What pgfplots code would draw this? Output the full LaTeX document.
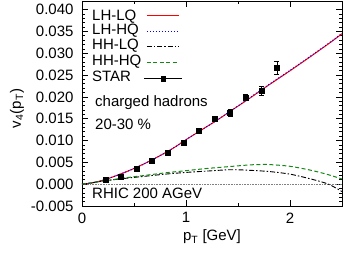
\documentclass[border=0pt]{standalone}
\usepackage{pgfplots}
\pgfplotsset{compat=1.18}
\usepackage{fontspec}
\setmainfont{Liberation Sans}
\definecolor{dgreen}{RGB}{20,135,20}
\newcommand{\bigf}{\fontsize{15}{18}\selectfont}
\begin{document}
\begin{tikzpicture}
\begin{axis}[
  name=main,
  scale only axis,
  width=260pt, height=205pt,
  xmin=0, xmax=2.5, ymin=-0.005, ymax=0.042,
  font=\bigf,
  tick label style={font=\bigf},
  label style={font=\bigf},
  /pgf/number format/assume math mode=true,
  xtick={0,1,2}, minor xtick={0.5,1.5},
  ytick={-0.005,0,0.005,0.010,0.015,0.020,0.025,0.030,0.035,0.040},
  minor y tick num=4,
  yticklabel style={/pgf/number format/fixed, /pgf/number format/fixed zerofill, /pgf/number format/precision=3, xshift=-5pt},
  xticklabel style={yshift=-3pt},
  scaled y ticks=false,
  tick align=inside,
  major tick length=6pt, minor tick length=3pt,
  tick style={black, line width=0.8pt},
  axis line style={line width=0.9pt},
  xlabel={p\textsubscript{T} [GeV]},
  ylabel={v\textsubscript{4}(p\textsubscript{T})},
  ylabel style={xshift=-5pt},
  redline/.style={red, line width=1pt},
  blueline/.style={blue, dotted, line width=1pt},
  blackline/.style={black, dash pattern=on 5pt off 2pt on 1.5pt off 2pt, line width=0.9pt},
  greenline/.style={dgreen, dash pattern=on 4pt off 2.5pt, line width=1pt},
]
\addplot[gray, densely dotted, line width=0.6pt, forget plot] coordinates {(0,0) (2.5,0)};
% LH-LQ
\addplot[redline, smooth] coordinates {
(0,0) (0.1,0.0003) (0.2,0.0009) (0.3,0.0017) (0.4,0.0026) (0.5,0.0036) (0.6,0.0047)
(0.7,0.0059) (0.8,0.0072) (0.9,0.0086) (1.0,0.0102) (1.1,0.0117) (1.2,0.0132)
(1.3,0.0147) (1.4,0.0163) (1.6,0.0195) (1.8,0.0228) (2.0,0.0260) (2.2,0.0293)
(2.4,0.0327) (2.5,0.0345)};
% LH-HQ
\addplot[blueline, smooth] coordinates {
(0,0) (0.1,0.0003) (0.2,0.0009) (0.3,0.0017) (0.4,0.0026) (0.5,0.0036) (0.6,0.0047)
(0.7,0.0059) (0.8,0.0072) (0.9,0.0086) (1.0,0.0102) (1.1,0.0117) (1.2,0.0132)
(1.3,0.0147) (1.4,0.0163) (1.6,0.0196) (1.8,0.0229) (2.0,0.0261) (2.2,0.0294)
(2.4,0.0328) (2.5,0.0346)};
% HH-LQ
\addplot[blackline, smooth] coordinates {
(0,0) (0.2,0.0007) (0.4,0.0013) (0.6,0.0018) (0.8,0.0023) (1.0,0.0027) (1.2,0.0030)
(1.4,0.0033) (1.5,0.0033) (1.6,0.0032) (1.8,0.0029) (2.0,0.0023) (2.2,0.0012)
(2.37,0.0) (2.5,-0.0017)};
% HH-HQ
\addplot[greenline, smooth] coordinates {
(0,0) (0.2,0.0007) (0.4,0.0014) (0.6,0.0020) (0.8,0.0026) (1.0,0.0031) (1.2,0.0036)
(1.4,0.0040) (1.6,0.0044) (1.7,0.0045) (1.8,0.0045) (2.0,0.0041) (2.2,0.0032)
(2.35,0.0023) (2.5,0.0012)};
% STAR
\addplot[black, only marks, mark=square*, mark size=2.5pt,
  error bars/.cd, y dir=both, y explicit,
  error bar style={line width=0.8pt},
  error mark options={rotate=90, mark size=2.5pt, line width=0.8pt},
  ] coordinates {
(0.225,0.0011) +- (0,0.0003)
(0.375,0.0018) +- (0,0.0003)
(0.525,0.0036) +- (0,0.0003)
(0.675,0.0054) +- (0,0.0004)
(0.825,0.0072) +- (0,0.0004)
(0.975,0.0094) +- (0,0.0005)
(1.125,0.0122) +- (0,0.0005)
(1.275,0.0149) +- (0,0.0006)
(1.425,0.0164) +- (0,0.0008)
(1.575,0.0199) +- (0,0.0008)
(1.725,0.0214) +- (0,0.0010)
(1.875,0.0267) +- (0,0.0015)};
% legend keys
\addplot[redline, forget plot] coordinates {(0.625,0.038675) (0.933,0.038675)};
\addplot[blueline, forget plot] coordinates {(0.625,0.035007) (0.933,0.035007)};
\addplot[blackline, forget plot] coordinates {(0.625,0.031568) (0.933,0.031568)};
\addplot[greenline, forget plot] coordinates {(0.625,0.027900) (0.933,0.027900)};
\addplot[black, only marks, mark=square*, mark size=2.3pt, forget plot,
  error bars/.cd, x dir=both, x explicit,
  error bar style={line width=0.8pt},
  error mark options={mark size=2.5pt, line width=0.8pt},
  ] coordinates {(0.779,0.024231) +- (0.154,0)};
\node[anchor=base west, inner sep=0pt] at (axis cs:0.096,0.03745) {LH-LQ};
\node[anchor=base west, inner sep=0pt] at (axis cs:0.096,0.03423) {LH-HQ};
\node[anchor=base west, inner sep=0pt] at (axis cs:0.096,0.03078) {HH-LQ};
\node[anchor=base west, inner sep=0pt] at (axis cs:0.096,0.02720) {HH-HQ};
\node[anchor=base west, inner sep=0pt] at (axis cs:0.096,0.02352) {STAR};
\node[anchor=west, inner sep=0pt] at (axis cs:0.125,0.0186) {charged hadrons};
\node[anchor=west, inner sep=0pt] at (axis cs:0.125,0.0138) {20-30 \%};
\node[anchor=west, inner sep=0pt] at (axis cs:0.096,-0.0021) {RHIC 200 AGeV};
\end{axis}
\path ([xshift=-82pt,yshift=-52pt]main.south west) rectangle ([xshift=1pt,yshift=1pt]main.north east);
\end{tikzpicture}
\end{document}
